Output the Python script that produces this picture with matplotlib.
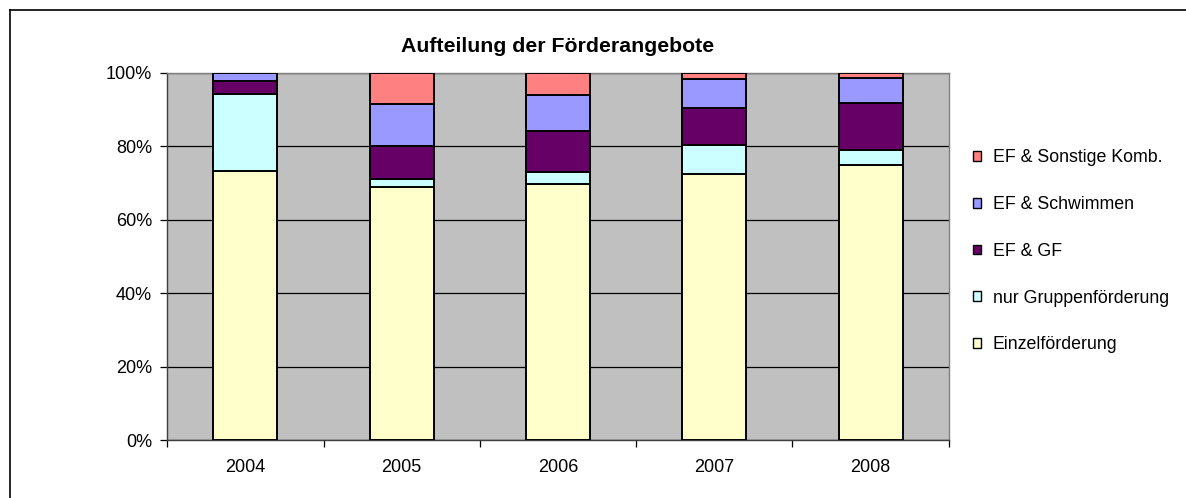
import matplotlib
matplotlib.use("Agg")
import matplotlib.pyplot as plt
from matplotlib.patches import Patch
from matplotlib.lines import Line2D
import numpy as np

plt.rcParams['font.family'] = ['Liberation Sans', 'DejaVu Sans']

years = ["2004", "2005", "2006", "2007", "2008"]
einzel = [73.3, 69.0, 69.7, 72.4, 74.8]
gruppe = [20.9, 2.0, 3.2, 8.0, 4.2]
ef_gf = [3.5, 9.0, 11.3, 10.1, 12.8]
schwimmen = [2.3, 11.5, 9.7, 7.7, 6.8]
sonstige = [0.0, 8.5, 6.1, 1.8, 1.4]

series_names = ["Einzelförderung", "nur Gruppenförderung", "EF & GF",
                "EF & Schwimmen", "EF & Sonstige Komb."]
series_vals = [einzel, gruppe, ef_gf, schwimmen, sonstige]
colors = ["#FFFFCC", "#CCFFFF", "#660066", "#9999FF", "#FF8080"]
yticks = [0, 20, 40, 60, 80, 100]
ytick_labels = ["0%", "20%", "40%", "60%", "80%", "100%"]

W, H = 1186, 498
fig = plt.figure(figsize=(W / 100, H / 100), dpi=100)
fig.patch.set_facecolor("white")

# outer frame (only top/left visible)
fig.add_artist(Line2D([10 / W, 10 / W], [0, 1 - 10 / H], transform=fig.transFigure,
                      color="black", lw=1.2))
fig.add_artist(Line2D([10 / W, 1], [1 - 10 / H, 1 - 10 / H], transform=fig.transFigure,
                      color="black", lw=1.2))

left, right = 167.3 / W, 948.7 / W
bottom, top = 1 - 440 / H, 1 - 72.7 / H
ax = fig.add_axes([left, bottom, right - left, top - bottom])
ax.set_facecolor("#C0C0C0")

x = np.arange(len(years))
totals = np.array([sum(v[i] for v in series_vals) for i in range(len(years))])
base = np.zeros(len(years))
handles = []
for name, vals, col in zip(series_names, series_vals, colors):
    v = np.array(vals) / totals * 100
    ax.bar(x, v, bottom=base, width=0.41, color=col, edgecolor="black",
           linewidth=1.4, zorder=3)
    base += v
    handles.append(Patch(facecolor=col, edgecolor="black", linewidth=1.0, label=name))

ax.set_xlim(-0.5, len(years) - 0.5)
ax.set_ylim(0, 100)
ax.set_yticks(yticks)
ax.set_yticklabels(ytick_labels, fontsize=13)
ax.yaxis.grid(True, color="black", linewidth=0.9, zorder=1)
ax.set_axisbelow(True)
ax.tick_params(axis="y", length=5, width=0.9, pad=6, direction="out")

ax.set_xticks(x)
ax.set_xticklabels(years, fontsize=13)
ax.set_xticks(np.arange(-0.5, len(years)), minor=True)
ax.tick_params(axis="x", which="major", length=0, pad=14)
ax.tick_params(axis="x", which="minor", length=5, width=0.9, direction="out")

for s in ["left", "bottom"]:
    ax.spines[s].set_color("#404040")
    ax.spines[s].set_linewidth(1.0)
for s in ["top", "right"]:
    ax.spines[s].set_color("#808080")
    ax.spines[s].set_linewidth(1.0)

fig.text(558 / W, 1 - 46 / H, "Aufteilung der Förderangebote", ha="center", va="center",
         fontsize=15.3, fontweight="bold")

leg = fig.legend(handles=handles[::-1], loc="upper left",
                 bbox_to_anchor=(973 / W, 1 - 149.5 / H), frameon=False,
                 fontsize=12.8, handlelength=0.45, handleheight=0.45,
                 handletextpad=0.65, labelspacing=1.67, borderaxespad=0,
                 borderpad=0)

fig.savefig("out.png", dpi=100)
